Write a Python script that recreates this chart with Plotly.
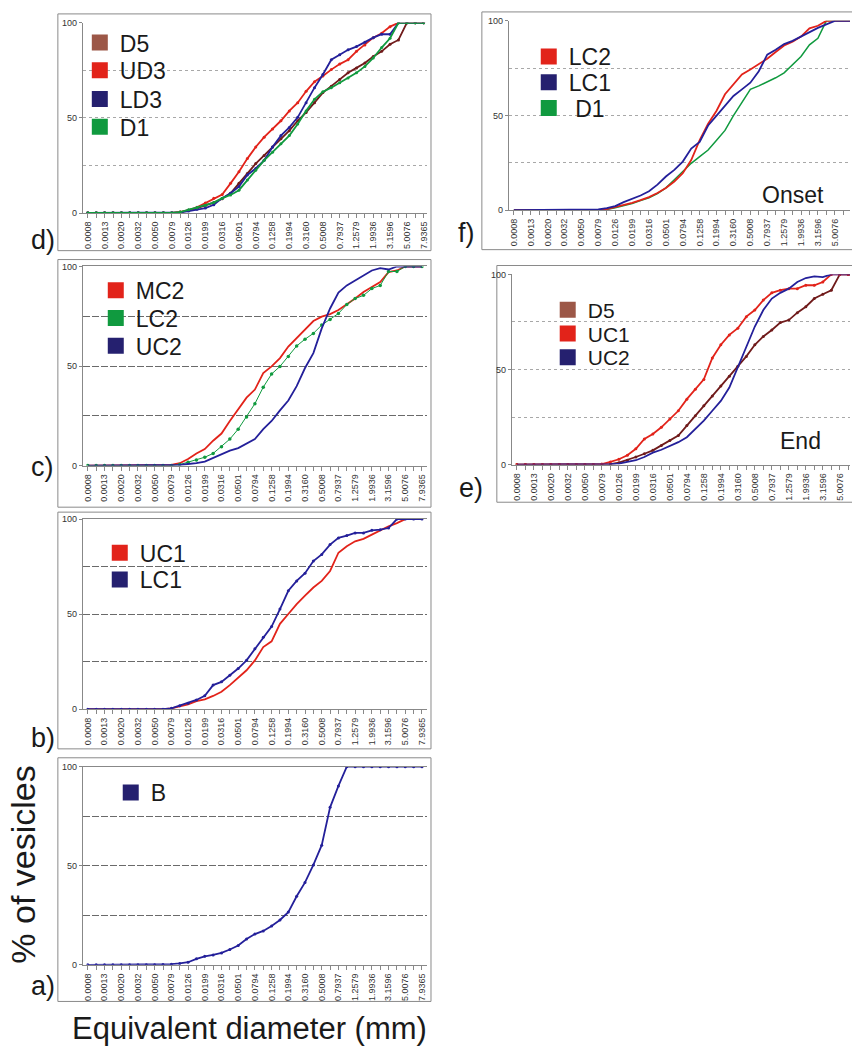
import plotly.graph_objects as go

W, H = 852, 1053

# Equivalent diameter classes (mm), log-spaced; every second one is labelled
diameters = ["0.0008", "0.0010", "0.0013", "0.0016", "0.0020", "0.0025", "0.0032",
             "0.0040", "0.0050", "0.0063", "0.0079", "0.0100", "0.0126", "0.0158",
             "0.0199", "0.0251", "0.0316", "0.0398", "0.0501", "0.0630", "0.0794",
             "0.0999", "0.1258", "0.1584", "0.1994", "0.2510", "0.3160", "0.3978",
             "0.5008", "0.6304", "0.7937", "0.9992", "1.2579", "1.5836", "1.9936",
             "2.5097", "3.1596", "3.9776", "5.0076", "6.3042", "7.9365"]
tick_text = [d if i % 2 == 0 else "" for i, d in enumerate(diameters)]

# Cumulative % of vesicles per class
d_D5 = [0, 0, 0, 0, 0, 0, 0, 0, 0, 0, 0, 0.5, 1.5, 2.5, 4, 5.5, 7.5, 10.4, 15.6, 20.8, 26,
        30.3, 34.7, 39, 43.3, 48.5, 52.9, 58, 63.3, 66.7, 70.2, 73.7, 76.3, 78.9, 82.3, 85,
        88.7, 91, 100, 100, 100]
d_UD3 = [0, 0, 0, 0, 0, 0, 0, 0, 0, 0, 0, 0.5, 1.5, 3, 5.2, 7.8, 9.7, 15.6, 21.7, 28.6, 34.7,
         39.9, 44.2, 48.5, 53.7, 58, 64, 69, 72, 75.4, 78.3, 80.6, 85, 88.4, 92.2, 94.5,
         98, 100, 100, 100, 100]
d_LD3 = [0, 0, 0, 0, 0, 0, 0, 0, 0, 0, 0, 0.3, 1, 2, 2.6, 4.3, 7.8, 10.4, 13.9, 20, 23.4,
         27.7, 34.7, 40.7, 45, 50.3, 58, 65.9, 72.8, 80.6, 83.2, 85.8, 87.5, 89.8, 92.2, 94,
         94, 100, 100, 100, 100]
d_D1 = [0, 0, 0, 0, 0, 0, 0, 0, 0, 0, 0, 0.5, 1.7, 2.7, 4, 5.5, 7.8, 9.5, 12, 17.3, 22.5,
        27.7, 32, 36.4, 40.7, 46.8, 53.7, 59.8, 63.8, 65.9, 68.5, 71, 73.7, 77.1, 81.5, 87,
        91.9, 100, 100, 100, 100]

f_LC2 = [0, 0, 0, 0, 0, 0, 0, 0, 0, 0, 0, 0.5, 1.5, 2.6, 3.8, 5.2, 6.8, 9, 11.7, 15.1, 19.5,
         26.4, 36.9, 45.6, 52.5, 61.2, 66.4, 71.7, 74.3, 77, 80, 83.5, 87, 89, 91.7, 96,
         97.4, 100, 100, 100, 100]
f_LC1 = [0, 0, 0, 0, 0, 0, 0, 0, 0, 0, 0.3, 1, 2.1, 4.2, 5.9, 7.7, 9.9, 13.4, 17.7, 21.2,
         25.6, 32.5, 36, 44.7, 49.9, 55.1, 60.3, 63.8, 67.3, 73.4, 82.1, 84.7, 87.7, 89.4,
         91.7, 94.3, 96.3, 98.1, 100, 100, 100]
f_D1 = [0, 0, 0, 0, 0, 0, 0, 0, 0, 0, 0, 0.3, 1.2, 2.2, 3.5, 5, 6.4, 8.7, 11.7, 16, 20.3,
        24.7, 28.2, 31.7, 36.9, 42.1, 49.9, 56.9, 63.8, 65.6, 67.7, 69.9, 72.5, 76.9, 81.2,
        87.3, 90.8, 100, 100, 100, 100]

c_MC2 = [0, 0, 0, 0, 0, 0, 0, 0, 0, 0, 0.3, 1.2, 3.3, 6.1, 8.3, 12.5, 16.1, 22.4, 28.2, 34.1,
         38.2, 46.5, 49.8, 54, 59.8, 64, 68.1, 72.6, 74.8, 76.1, 78.1, 80.9, 83.9, 87.2,
         89.7, 92.2, 97.2, 98, 100, 100, 100]
c_LC2 = [0, 0, 0, 0, 0, 0, 0, 0, 0, 0, 0, 0.5, 1.7, 2.8, 4.2, 6.1, 9.5, 13.3, 18.3, 24.4,
         31.1, 39.4, 46, 49.8, 54.8, 60.1, 63.5, 66.4, 70.6, 73.4, 76.4, 80.9, 83.9, 85.5,
         88.9, 90.5, 97.5, 97.5, 100, 100, 100]
c_UC2 = [0, 0, 0, 0, 0, 0, 0, 0, 0, 0, 0, 0.3, 0.8, 1.2, 2, 3.8, 5.8, 7.5, 8.8, 11.1, 13.3,
         18.3, 22.4, 27.7, 32.7, 39.9, 49, 56.5, 68.9, 78.9, 86.9, 90.5, 93, 95.8, 98, 99.2,
         98.5, 100, 100, 100, 100]

e_D5 = [0, 0, 0, 0, 0, 0, 0, 0, 0, 0, 0, 0.2, 1, 2.3, 4, 5.7, 7.5, 10.1, 12.7, 15.3, 20.5,
        25.7, 30.9, 36.1, 41.3, 46.5, 51.7, 56.9, 63, 67.4, 70.8, 74.7, 76, 79.9, 83, 87.3,
        89.6, 91.7, 100, 100, 100]
e_UC1 = [0, 0, 0, 0, 0, 0, 0, 0, 0, 0, 0.3, 1.4, 2.8, 4.9, 8.3, 13.5, 16.1, 19.6, 24, 28.3,
         34.4, 39.6, 44.8, 56.1, 63, 68.2, 71.7, 77.8, 81.3, 86.5, 90.3, 91.7, 92.5, 92.5,
         94.3, 94.3, 96, 100, 100, 100, 100]
e_UC2 = [0, 0, 0, 0, 0, 0, 0, 0, 0, 0, 0, 0.3, 0.5, 1.4, 2.3, 4, 6.3, 7.8, 9.7, 11.8, 14.4,
         18.8, 23.1, 28.3, 33.5, 40.5, 50.9, 62.2, 72.6, 81.3, 87.3, 90.3, 92.5, 96, 98.1,
         99, 98.6, 100, 100, 100, 100]

b_UC1 = [0, 0, 0, 0, 0, 0, 0, 0, 0, 0, 0.5, 1.4, 2.6, 4.3, 5.2, 7, 9.2, 12.7, 16.7, 20.5,
         25.7, 32.7, 35.7, 44.9, 50.1, 55.3, 59.7, 64, 67.5, 72.7, 82.3, 85.7, 88.3, 89.6,
         91.8, 94.1, 96.2, 97.9, 100, 100, 100]
b_LC1 = [0, 0, 0, 0, 0, 0, 0, 0, 0, 0, 0.5, 1.9, 3.1, 4.9, 7.1, 12.7, 14.4, 17.9, 21.4, 25.7,
         31.8, 37.9, 43.5, 52.7, 62.3, 67.5, 71.5, 77.9, 81.4, 86.6, 90.1, 91.3, 92.7, 92.7,
         94.1, 94.4, 95.3, 100, 100, 100, 100]

a_B = [0, 0, 0, 0, 0, 0, 0, 0, 0, 0.1, 0.3, 0.7, 1.3, 3, 4.3, 5, 6, 7.7, 9.7, 13, 15.5,
       17.1, 19.6, 22.6, 26.6, 34.6, 41.6, 50.4, 60.4, 79.5, 90.3, 100, 100, 100, 100, 100,
       100, 100, 100, 100, 100]

RED = "#e2231a"
NAVY = "#24209a"
NAVY_KEY = "#25206f"
GREEN = "#109a3f"
BROWN = "#701b1b"
BROWN_KEY = "#9c5747"
FONT = "Liberation Sans, Arial, sans-serif"


def px_x(p):
    return p / W


def px_y(p):
    return 1 - p / H


DOT = dict(color="#a8a8a8", dash="dot", top=False)
DASH = dict(color="#6a6a6a", dash="7px,2px", top=True)

panels = [
    dict(tag="d)", tag_xy=(43, 237), left=83, right=428, top=18, bottom=210,
         xrange=[-0.6, 40.4], grid=DOT, frame=(58, 9, 432, 248), key_font=23,
         series=[("D5", d_D5, BROWN, 1.8, 3), ("UD3", d_UD3, RED, 1.8, 3),
                 ("LD3", d_LD3, NAVY, 1.8, 3), ("D1", d_D1, GREEN, 1.8, 3)],
         keys=[("D5", BROWN_KEY, 100, 38), ("UD3", RED, 100, 66),
               ("LD3", NAVY_KEY, 100, 95), ("D1", GREEN, 100, 123)],
         note=None),
    dict(tag="f)", tag_xy=(468, 230), left=510, right=852, top=16, bottom=207,
         xrange=[-0.6, 39.8], grid=DOT, frame=(483, 7, 870, 247), key_font=23,
         series=[("D1", f_D1, GREEN, 1.5, 0), ("LC2", f_LC2, RED, 1.8, 0),
                 ("LC1", f_LC1, NAVY, 1.8, 0)],
         keys=[("LC2", RED, 550, 52), ("LC1", NAVY_KEY, 550, 78),
               (" D1", GREEN, 550, 104)],
         note=("Onset", 795, 192)),
    dict(tag="c)", tag_xy=(43, 466), left=83, right=428, top=264, bottom=465,
         xrange=[-0.6, 40.6], grid=DASH, frame=(58, 257, 432, 507), key_font=23,
         series=[("MC2", c_MC2, RED, 1.8, 0), ("LC2", c_LC2, GREEN, 1, 3.5),
                 ("UC2", c_UC2, NAVY, 1.8, 0)],
         keys=[("MC2", RED, 116, 288), ("LC2", GREEN, 116, 316),
               ("UC2", NAVY_KEY, 116, 344)],
         note=None),
    dict(tag="e)", tag_xy=(472, 488), left=513, right=852, top=272, bottom=464,
         xrange=[-0.6, 39.2], grid=DOT, frame=(498, 263, 870, 502), key_font=21,
         series=[("D5", e_D5, BROWN, 1.8, 3), ("UC1", e_UC1, RED, 1.8, 3),
                 ("UC2", e_UC2, NAVY, 1.8, 0)],
         keys=[("D5", BROWN_KEY, 569, 308), ("UC1", RED, 569, 332),
               ("UC2", NAVY_KEY, 569, 356)],
         note=("End", 802, 440)),
    dict(tag="b)", tag_xy=(43, 740), left=83, right=428, top=519, bottom=711,
         xrange=[-0.6, 40.6], grid=DASH, frame=(58, 512, 432, 751), key_font=23,
         series=[("UC1", b_UC1, RED, 1.8, 0), ("LC1", b_LC1, NAVY, 1.8, 3)],
         keys=[("UC1", RED, 120, 553), ("LC1", NAVY_KEY, 120, 580)],
         note=None),
    dict(tag="a)", tag_xy=(43, 990), left=83, right=428, top=769, bottom=969,
         xrange=[-0.6, 40.6], grid=DASH, frame=(58, 760, 432, 1006), key_font=23,
         series=[("B", a_B, NAVY, 1.8, 3)],
         keys=[("B", NAVY_KEY, 131, 795)],
         note=None),
]

fig = go.Figure()
layout = dict(width=W, height=H, margin=dict(l=0, r=0, t=0, b=0),
              paper_bgcolor="white", plot_bgcolor="white",
              font=dict(family=FONT, color="#222"), showlegend=True)
shapes, annotations = [], []
legend_no = 0

for k, p in enumerate(panels, start=1):
    sfx = "" if k == 1 else str(k)
    xa, ya = "x" + sfx, "y" + sfx
    g = p["grid"]
    layout["xaxis" + sfx] = dict(
        type="category", domain=[px_x(p["left"]), min(1.0, px_x(p["right"]))],
        anchor=ya, range=p["xrange"], tickmode="array", tickvals=diameters,
        ticktext=tick_text, tickangle=-90, tickfont=dict(size=9, color="#333"),
        ticks="outside", ticklen=4, tickcolor="#888", showline=True,
        linecolor="#888", linewidth=1, mirror=g["top"], showgrid=False,
        zeroline=False, fixedrange=True)
    layout["yaxis" + sfx] = dict(
        domain=[px_y(p["bottom"]), px_y(p["top"])], anchor=xa, range=[0, 100],
        tickvals=[0, 50, 100], tickfont=dict(size=9, color="#333"), ticks="outside",
        ticklen=3, tickcolor="#888", showline=True, linecolor="#888", linewidth=1,
        showgrid=True, gridcolor=g["color"], griddash=g["dash"], gridwidth=1,
        minor=dict(tickvals=[25, 75], showgrid=True, gridcolor=g["color"],
                   griddash=g["dash"], gridwidth=1, ticks=""),
        zeroline=False, fixedrange=True)

    for name, vals, color, width, msize in p["series"]:
        fig.add_trace(go.Scatter(
            x=diameters, y=vals, name=name, xaxis=xa, yaxis=ya,
            mode="lines+markers" if msize else "lines",
            line=dict(color=color, width=width),
            marker=dict(size=msize, color=color), showlegend=False,
            hoverinfo="skip", cliponaxis=True))

    # one legend box per key so each entry sits where it belongs
    for label, kcolor, cx, cy in p["keys"]:
        legend_no += 1
        lid = "legend" if legend_no == 1 else f"legend{legend_no}"
        fig.add_trace(go.Scatter(
            x=[None], y=[None], name=label, xaxis=xa, yaxis=ya, mode="markers",
            marker=dict(symbol="square", size=16, color=kcolor),
            legend=lid, showlegend=True, hoverinfo="skip"))
        layout[lid] = dict(x=px_x(cx - 20), y=px_y(cy), xanchor="left",
                           yanchor="middle", bgcolor="rgba(0,0,0,0)",
                           borderwidth=0,
                           font=dict(size=p["key_font"], color="#1a1a1a", family=FONT),
                           itemclick=False, itemdoubleclick=False)

    x0, y0, x1, y1 = p["frame"]
    shapes.append(dict(type="rect", xref="paper", yref="paper",
                       x0=px_x(x0), x1=px_x(x1), y0=px_y(y1), y1=px_y(y0),
                       line=dict(color="#8a8a8a", width=1), layer="below"))
    tx, ty = p["tag_xy"]
    annotations.append(dict(text=p["tag"], x=px_x(tx), y=px_y(ty), xref="paper",
                            yref="paper", xanchor="center", yanchor="middle",
                            showarrow=False, font=dict(size=27, color="#1a1a1a")))
    if p["note"]:
        text, nx, ny = p["note"]
        annotations.append(dict(text=text, x=px_x(nx), y=px_y(ny), xref="paper",
                                yref="paper", xanchor="center", yanchor="middle",
                                showarrow=False, font=dict(size=23, color="#1a1a1a")))

annotations.append(dict(text="% of vesicles", x=px_x(23), y=px_y(868), xref="paper",
                        yref="paper", textangle=-90, showarrow=False,
                        xanchor="center", yanchor="middle",
                        font=dict(size=34, color="#1a1a1a")))
annotations.append(dict(text="Equivalent diameter (mm)", x=px_x(250), y=px_y(1033),
                        xref="paper", yref="paper", showarrow=False,
                        xanchor="center", yanchor="middle",
                        font=dict(size=31, color="#1a1a1a")))

layout["shapes"] = shapes
layout["annotations"] = annotations
fig.update_layout(**layout)
fig.write_html("out.html")
